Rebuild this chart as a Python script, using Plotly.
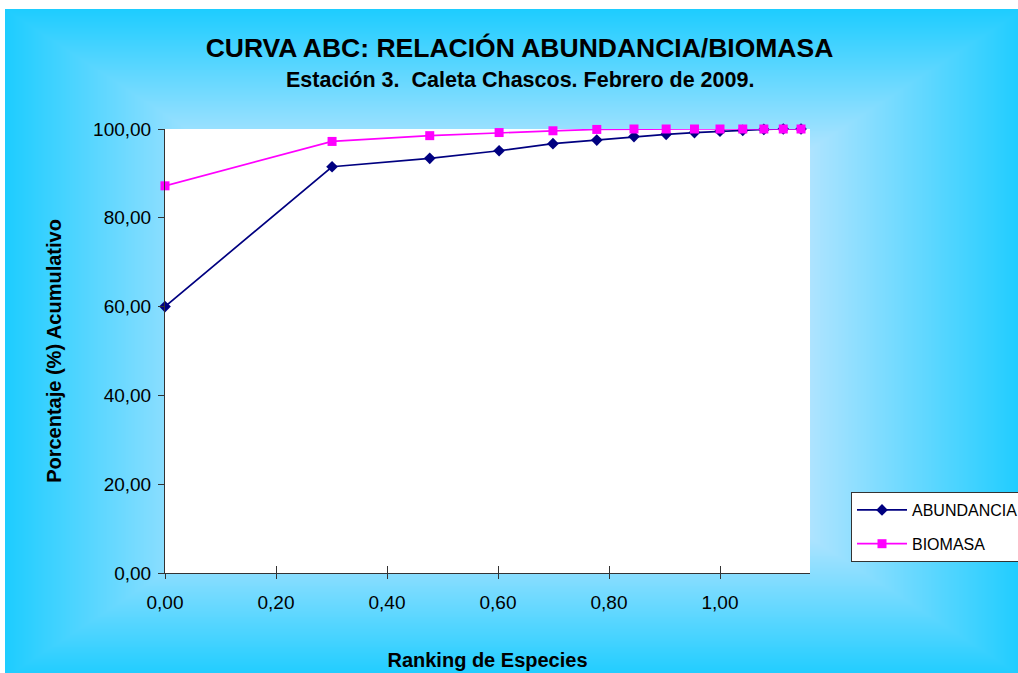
import base64
import struct
import zlib

import numpy as np
import plotly.graph_objects as go

# Ranking de especies (log10 del rango) y porcentajes acumulados
rank_log = [0.000, 0.301, 0.477, 0.602, 0.699, 0.778, 0.845, 0.903,
            0.954, 1.000, 1.041, 1.079, 1.114, 1.146]
abundancia = [60.0, 91.5, 93.4, 95.1, 96.7, 97.5, 98.3, 98.8,
              99.2, 99.5, 99.7, 99.9, 100.0, 100.0]
biomasa = [87.2, 97.2, 98.5, 99.2, 99.6, 99.9, 100.0, 100.0,
           100.0, 100.0, 100.0, 100.0, 100.0, 100.0]

x_ticks = [0.0, 0.2, 0.4, 0.6, 0.8, 1.0]
y_ticks = [0, 20, 40, 60, 80, 100]

W, H = 1018, 673
L, R, T, B = 165, 208, 129, 100
PW, PH = W - L - R, H - T - B


def png_data_uri(arr):
    h, w, _ = arr.shape
    raw = np.concatenate([np.zeros((h, 1), np.uint8), arr.reshape(h, -1)], axis=1).tobytes()

    def chunk(tag, data):
        return (struct.pack(">I", len(data)) + tag + data
                + struct.pack(">I", zlib.crc32(tag + data) & 0xFFFFFFFF))

    png = (b"\x89PNG\r\n\x1a\n"
           + chunk(b"IHDR", struct.pack(">IIBBBBB", w, h, 8, 2, 0, 0, 0))
           + chunk(b"IDAT", zlib.compress(raw, 9))
           + chunk(b"IEND", b""))
    return "data:image/png;base64," + base64.b64encode(png).decode()


# Chart-area fill: rectangular gradient, light in the middle, cyan at the edges
x0, y0, x1, y1 = 5, 9, 1023, 677
cx, cy = (x0 + x1) / 2, (y0 + y1) / 2
hx, hy = (x1 - x0) / 2, (y1 - y0) / 2
yy, xx = np.mgrid[0:H, 0:W].astype(float)
t = np.maximum(np.abs(xx - cx) / hx, np.abs(yy - cy) / hy)
s = np.clip(1 - t, 0, 1)
edge = np.array([30.0, 205.0, 255.0])
slope = np.array([345.0, 55.0, 0.0])
img = np.clip(edge[None, None, :] + s[..., None] * slope[None, None, :], 0, 255)
img[(xx < x0) | (yy < y0)] = 255
img = img.astype(np.uint8)

FONT = "Arial, Liberation Sans, sans-serif"
NAVY = "#000080"
MAGENTA = "#FF00FF"
AXIS = "#333333"

fig = go.Figure()
fig.add_trace(go.Scatter(
    x=rank_log, y=abundancia, name="ABUNDANCIA", mode="lines+markers",
    legendgroup="a", cliponaxis=False,
    line=dict(color=NAVY, width=1.7),
    marker=dict(symbol="diamond", size=9, color=NAVY),
))
fig.add_trace(go.Scatter(
    x=rank_log, y=biomasa, name="BIOMASA", mode="lines+markers",
    legendgroup="b", cliponaxis=False,
    line=dict(color=MAGENTA, width=1.7),
    marker=dict(symbol="square", size=9, color=MAGENTA),
))
# empty trace so the tick overlay axis is drawn
fig.add_trace(go.Scatter(x=[], y=[], xaxis="x2", showlegend=False, hoverinfo="skip"))

fig.update_layout(
    width=W, height=H,
    margin=dict(l=L, r=R, t=T, b=B, pad=0, autoexpand=False),
    paper_bgcolor="rgb(30,205,255)",
    plot_bgcolor="white",
    separators=",.",
    font=dict(family=FONT, color="black"),
    title=dict(
        text="<b>CURVA ABC: RELACIÓN ABUNDANCIA/BIOMASA</b>",
        font=dict(size=26.5, family=FONT, color="black"),
        x=(519.5 - L) / PW, xref="paper", xanchor="center",
        y=1 - 48 / H, yref="container", yanchor="middle",
    ),
    annotations=[dict(
        text="<b>Estación 3.\u00a0 Caleta Chascos. Febrero de 2009.</b>",
        font=dict(size=21.5, family=FONT, color="black"),
        x=(519.5 - L) / PW, xref="paper", xanchor="center",
        y=1 + (T - 80) / PH, yref="paper", yanchor="middle",
        showarrow=False,
    )],
    xaxis=dict(
        range=[0, 645 / 555], tickvals=x_ticks, tickformat=".2f",
        ticks="outside", ticklen=5, tickcolor=AXIS, tickwidth=1,
        ticklabelstandoff=7,
        showline=True, linecolor=AXIS, linewidth=1,
        showgrid=False, zeroline=False,
        tickfont=dict(size=19, family=FONT, color="black"),
        title=dict(text="<b>Ranking de Especies</b>", standoff=41,
                   font=dict(size=20, family=FONT, color="black")),
    ),
    xaxis2=dict(
        matches="x", overlaying="x", anchor="y", side="bottom",
        tickvals=x_ticks, ticks="inside", ticklen=7, tickcolor=AXIS,
        showticklabels=False, showline=False, showgrid=False, zeroline=False,
    ),
    yaxis=dict(
        range=[0, 100], tickvals=y_ticks, tickformat=".2f",
        ticks="outside", ticklen=6, tickcolor=AXIS, tickwidth=1,
        ticklabelstandoff=3,
        showline=True, linecolor=AXIS, linewidth=1,
        showgrid=False, zeroline=False,
        tickfont=dict(size=19, family=FONT, color="black"),
        title=dict(text="<b>Porcentaje (%) Acumulativo</b>", standoff=26,
                   font=dict(size=20, family=FONT, color="black")),
    ),
    legend=dict(
        x=851 / W, y=1 - 492 / H, xanchor="left", yanchor="top",
        xref="container", yref="container",
        bgcolor="white", bordercolor=AXIS, borderwidth=1,
        font=dict(size=16, family=FONT, color="black"),
        tracegroupgap=10, itemwidth=50,
    ),
    images=[dict(
        source=png_data_uri(img), xref="paper", yref="paper",
        x=-L / PW, y=1 + T / PH, sizex=W / PW, sizey=H / PH,
        xanchor="left", yanchor="top", sizing="stretch", layer="below",
    )],
    shapes=[dict(
        type="rect", xref="paper", yref="paper", x0=0, x1=1, y0=0, y1=1,
        fillcolor="white", line=dict(width=0), layer="below",
    )],
)

fig.write_html("out.html")
